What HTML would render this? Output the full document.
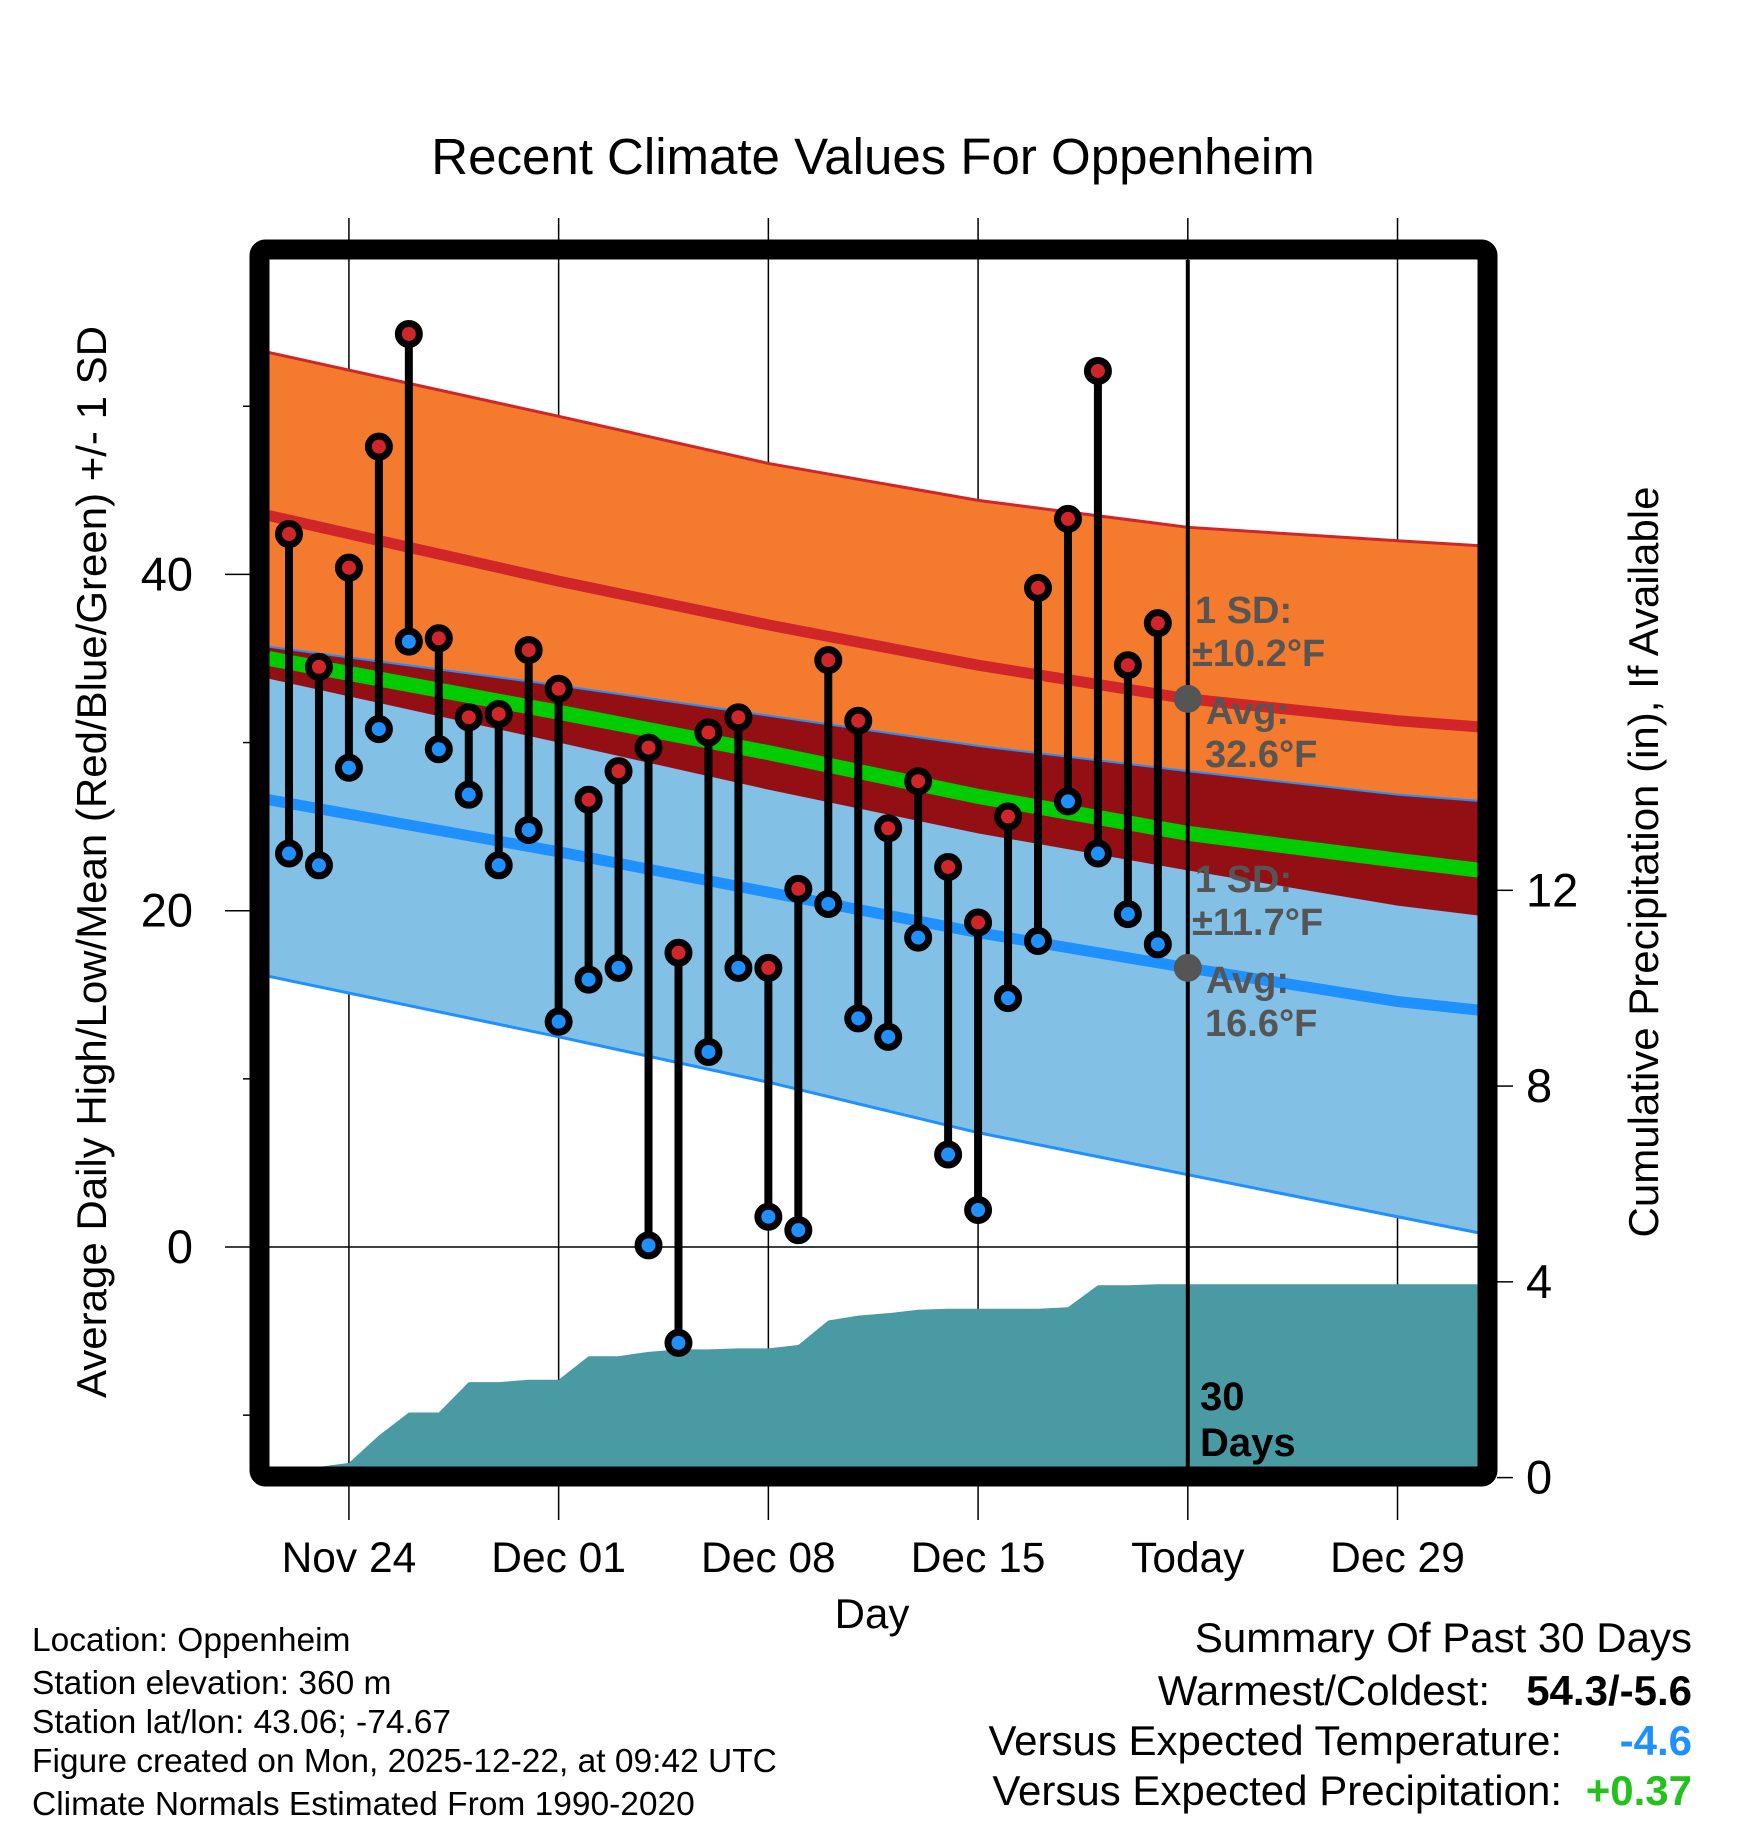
<!DOCTYPE html>
<html><head><meta charset="utf-8"><style>
html,body{margin:0;padding:0;background:#fff;}
svg{display:block;font-family:"Liberation Sans",sans-serif;}
</style></head><body>
<svg id="chart" width="1748" height="1828" viewBox="0 0 1748 1828" xmlns="http://www.w3.org/2000/svg">
<defs><clipPath id="pc"><rect x="269" y="260" width="1209" height="1207"/></clipPath></defs>
<rect width="1748" height="1828" fill="#fff"/>
<text x="873" y="174" font-size="51" text-anchor="middle">Recent Climate Values For Oppenheim</text>
<g id="grid"></g>
<g id="plot" clip-path="url(#pc)"></g>
<g id="marks"></g>
<rect x="259.5" y="249.5" width="1228" height="1227" rx="6" fill="none" stroke="#000" stroke-width="20"/>
<g id="axes"></g>
<text x="872" y="1628" font-size="42" text-anchor="middle">Day</text>
<text transform="translate(106,862) rotate(-90)" font-size="42" text-anchor="middle">Average Daily High/Low/Mean (Red/Blue/Green) +/- 1 SD</text>
<text transform="translate(1658,862) rotate(-90)" font-size="42" text-anchor="middle">Cumulative Precipitation (in), If Available</text>
<g font-size="33.5">
<text x="32" y="1651">Location: Oppenheim</text>
<text x="32" y="1694">Station elevation: 360 m</text>
<text x="32" y="1733">Station lat/lon: 43.06; -74.67</text>
<text x="32" y="1772">Figure created on Mon, 2025-12-22, at 09:42 UTC</text>
<text x="32" y="1815">Climate Normals Estimated From 1990-2020</text>
</g>
<g font-size="42">
<text x="1692" y="1652" text-anchor="end">Summary Of Past 30 Days</text>
<text x="1490" y="1705" text-anchor="end">Warmest/Coldest:</text>
<text x="1692" y="1705" text-anchor="end" font-weight="bold">54.3/-5.6</text>
<text x="1562" y="1755" text-anchor="end">Versus Expected Temperature:</text>
<text x="1692" y="1755" text-anchor="end" font-weight="bold" fill="#1e90ff">-4.6</text>
<text x="1562" y="1805" text-anchor="end">Versus Expected Precipitation:</text>
<text x="1692" y="1805" text-anchor="end" font-weight="bold" fill="#22c11c">+0.37</text>
</g>
</svg>
<script>
// Normal curves sampled at day offsets (day 0 = Nov 22)
const normDays = [-0.68, 9, 16, 23, 30, 37, 40.68];
const hiUpper = [53.2, 49.4, 46.6, 44.4, 42.8, 42.0, 41.6];
const hiMean  = [43.5, 39.6, 37.0, 34.6, 32.6, 31.3, 30.8];
const hiLower = [33.8, 30.0, 27.2, 24.6, 22.4, 20.3, 19.5];
const loUpper = [35.7, 33.4, 31.6, 29.8, 28.3, 26.9, 26.4];
const avgMean = [35.0, 31.8, 29.4, 26.8, 24.6, 23.0, 22.2];
const loMean  = [26.6, 23.5, 21.1, 18.7, 16.6, 14.6, 13.9];
const loLower = [16.1, 12.5, 9.8, 6.8, 4.3, 1.8, 0.5];
// Daily observations
const highs = [42.4,34.5,40.4,47.6,54.3,36.2,31.5,31.7,35.5,33.2,26.6,28.3,29.7,17.5,30.6,31.5,16.6,21.3,34.9,31.3,24.9,27.7,22.6,19.3,25.6,39.2,43.3,52.1,34.6,37.1];
const lows  = [23.4,22.7,28.5,30.8,36.0,29.6,26.9,22.7,24.8,13.4,15.9,16.6,0.1,-5.7,11.6,16.6,1.8,1.0,20.4,13.6,12.5,18.4,5.5,2.2,14.8,18.2,26.5,23.4,19.8,18.0];
const precip = [0,0.22,0.3,0.86,1.33,1.33,1.95,1.95,2.0,2.0,2.48,2.48,2.57,2.62,2.62,2.64,2.64,2.71,3.21,3.31,3.36,3.43,3.45,3.45,3.45,3.45,3.48,3.93,3.93,3.95];
const xTickDays = [2, 9, 16, 23, 30, 37];
const xTickLabels = ["Nov 24","Dec 01","Dec 08","Dec 15","Today","Dec 29"];
const yTicks = [0, 20, 40];
const yMinor = [-10, 10, 30, 50];
const pTicks = [0, 4, 8, 12];

const X = d => 289.0 + d*29.96;
const Y = t => 1247 - t*16.815;
const YP = p => 1477.6 - p*48.94;
const NS = "http://www.w3.org/2000/svg";
function mk(tag, attrs, parent){const e=document.createElementNS(NS,tag);for(const k in attrs)e.setAttribute(k,attrs[k]);parent.appendChild(e);return e;}
const plot=document.getElementById('plot'), grid=document.getElementById('grid'), marks=document.getElementById('marks'), axes=document.getElementById('axes');
function pts(arr){return normDays.map((d,i)=>X(d)+','+Y(arr[i]));}
function band(up, lo, fill, name){
  const p = pts(up).concat(pts(lo).reverse()).join(' ');
  const e = mk('polygon',{points:p,fill:fill},plot);
  
  
}
function line(arr, col, w, name){
  const e = mk('polyline',{points:pts(arr).join(' '),fill:'none',stroke:col,'stroke-width':w},plot);
  
  
}
band(hiUpper, hiLower, '#f47a2e', 'high-sd-band');
band(loUpper, loLower, '#83c0e6', 'low-sd-band');
{
  const p = pts(loUpper).concat(pts(hiLower).reverse()).join(' ');
  const e = mk('polygon',{points:p,fill:'#930f14'},plot);
  
  
}
line(hiUpper,'#d0262a',3,'high-upper-line');
line(loUpper,'#1e90ff',2,'low-upper-line');
line(loLower,'#1e90ff',3,'low-lower-line');
line(avgMean,'#00cc00',15,'mean-line');
line(hiMean,'#d0262a',11,'high-mean-line');
line(loMean,'#1e90ff',11,'low-mean-line');
{
  let p = [X(-0.68)+','+1480, X(0)+','+YP(precip[0])];
  precip.forEach((v,i)=>p.push(X(i)+','+YP(v)));
  p.push(X(40.68)+','+YP(precip[precip.length-1]));
  p.push(X(40.68)+','+1480);
  const e = mk('polygon',{points:p.join(' '),fill:'#4a9aa3'},plot);
  
  
}
xTickDays.forEach((d,i)=>{
  const e = mk('line',{x1:X(d),x2:X(d),y1:218,y2:1520,stroke:'#000','stroke-width':1.5},grid);
  
  
  const t = mk('text',{x:X(d),y:1572,'font-size':42.5,'text-anchor':'middle'},axes);
  t.textContent = xTickLabels[i];
  
  
});
yTicks.forEach(v=>{
  const e = mk('line',{x1:225,x2:1478,y1:Y(v),y2:Y(v),stroke:'#000','stroke-width':1.5},grid);
  
  
  const t = mk('text',{x:193,y:Y(v)+16,'font-size':47,'text-anchor':'end'},axes);
  t.textContent = v;
  
  
});
yMinor.forEach(v=>{
  const e = mk('line',{x1:243,x2:250,y1:Y(v),y2:Y(v),stroke:'#000','stroke-width':1.5},axes);
  
  
});
pTicks.forEach(v=>{
  const e = mk('line',{x1:1497,x2:1513,y1:YP(v),y2:YP(v),stroke:'#000','stroke-width':1.5},axes);
  
  
  const t = mk('text',{x:1526,y:YP(v)+16,'font-size':47},axes);
  t.textContent = v;
  
  
});
{
  const e = mk('line',{x1:X(30),x2:X(30),y1:260,y2:1467,stroke:'#000','stroke-width':4},marks);
  
  
}
highs.forEach((h,i)=>{
  const l = lows[i];
  const s = mk('line',{x1:X(i),x2:X(i),y1:Y(h),y2:Y(l),stroke:'#000','stroke-width':8},marks);
  
  
});
highs.forEach((h,i)=>{
  const c = mk('circle',{cx:X(i),cy:Y(h),r:10.5,fill:'#d0262a',stroke:'#000','stroke-width':7},marks);
  
  
  const d = mk('circle',{cx:X(i),cy:Y(lows[i]),r:10.5,fill:'#1e90ff',stroke:'#000','stroke-width':7},marks);
  
  
});
function ann(txt,x,y,col,name,fs){
  const t = mk('text',{x:x,y:y,'font-size':fs||38,'font-weight':'bold',fill:col},marks);
  t.textContent = txt;
  
  
}
[[hiMean[4],'32.6','10.2'],[loMean[4],'16.6','11.7']].forEach(a=>{
  const c = mk('circle',{cx:X(30),cy:Y(a[0]),r:14,fill:'#555'},marks);
  
  
  const yy = Y(a[0]);
  ann('1 SD:',1195,yy-76,'#555','sd-label');
  ann('\u00b1'+a[2]+'\u00b0F',1192,yy-33,'#555','sd-value');
  ann('Avg:',1206,yy+25,'#555','avg-label');
  ann(a[1]+'\u00b0F',1205,yy+68,'#555','avg-value');
});
ann('30',1200,1410,'#000','days-count',40);
ann('Days',1200,1456,'#000','days-label',40);
</script>
</body></html>
